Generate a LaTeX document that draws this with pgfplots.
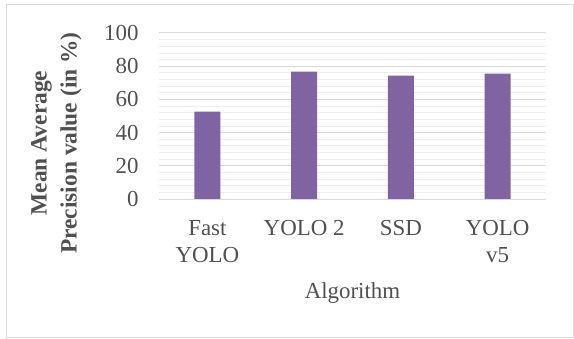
\documentclass[border=0pt]{standalone}
\usepackage{pgfplots}
\pgfplotsset{compat=1.18}
\usepackage{fontspec}
\setmainfont{Liberation Serif}
\definecolor{barpurple}{HTML}{8064A2}
\definecolor{txtgray}{HTML}{505050}
\definecolor{majgrid}{HTML}{D9D9D9}
\definecolor{mingrid}{HTML}{EDEDED}
\begin{document}
\begin{tikzpicture}[x=1bp,y=1bp]
\path[use as bounding box] (0,0) rectangle (574,338);
\draw[majgrid, line width=1bp] (6,1) rectangle (573,333);
\begin{axis}[
  at={(159bp,139bp)}, anchor=south west,
  scale only axis, width=387bp, height=166bp,
  xmin=-0.5, xmax=3.5, ymin=0, ymax=100,
  ytick={0,20,...,100},
  minor y tick num=4,
  xtick={0,1,2,3},
  xticklabels={{Fast\\YOLO},{YOLO 2},{SSD},{YOLO\\v5}},
  axis line style={draw=none},
  tick style={draw=none},
  ymajorgrids, yminorgrids,
  major grid style={majgrid, line width=1bp},
  minor grid style={mingrid, line width=0.8bp},
  ticklabel style={font=\fontsize{23}{27}\selectfont, text=txtgray},
  xticklabel style={align=center, anchor=north, yshift=-18bp},
  yticklabel style={anchor=east, xshift=-17bp},
  /pgf/number format/assume math mode=true,
  xlabel={Algorithm},
  xlabel style={font=\fontsize{23}{27}\selectfont, text=txtgray, at={(axis description cs:0.5,-0.566)}, anchor=center},
  ylabel={Mean Average\\Precision value (in \%)},
  ylabel style={font=\bfseries\fontsize{23.5}{30}\selectfont, text=txtgray, align=center, rotate=0, at={(axis description cs:-0.265,0.337)}, anchor=center},
]
\addplot[ybar, bar width=26bp, fill=barpurple, draw=none] coordinates {(0,52.7) (1,76.8) (2,74.3) (3,75.5)};
\draw[majgrid, line width=1bp] (axis cs:-0.5,0) -- (axis cs:3.5,0);
\end{axis}
\end{tikzpicture}
\end{document}
